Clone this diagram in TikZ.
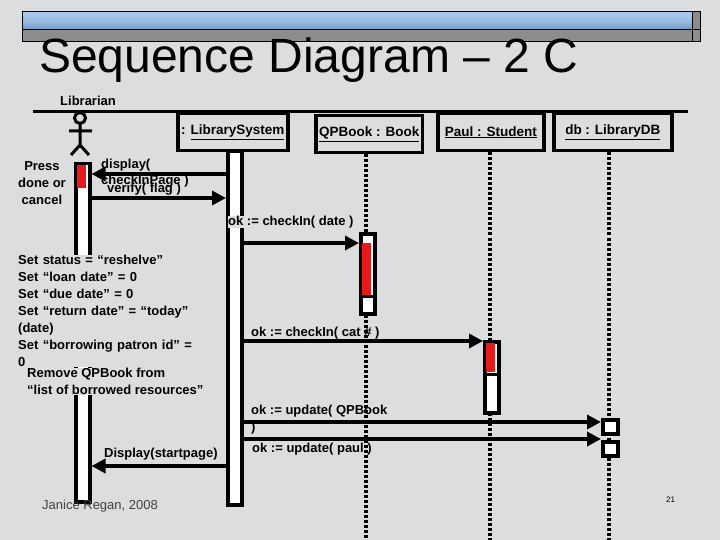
\documentclass[tikz,border=0pt]{standalone}
\usepackage{fontspec}
\setmainfont{Liberation Sans}
\usetikzlibrary{positioning, arrows.meta}
\definecolor{slide}{HTML}{DCDDDF}
\definecolor{barblue}{HTML}{6F96C4}
\definecolor{barlight}{HTML}{A9CBEE}
\definecolor{actred}{HTML}{E8191A}
\tikzset{
  obj/.style={draw, line width=3.5pt, fill=slide, minimum height=37pt, font=\bfseries\fontsize{13.5}{15}\selectfont},
  act/.style={draw, line width=3.5pt, fill=white},
  life/.style={line width=3.5pt, dash pattern=on 3pt off 2pt},
  msg/.style={line width=4pt, -{Triangle[length=14pt,width=14pt]}},
  lbl/.style={font=\bfseries\fontsize{13}{17}\selectfont, inner sep=0pt, align=left},
  note/.style={lbl, fill=slide}
}
\begin{document}
\begin{tikzpicture}[x=1pt, y=-1pt]
        \useasboundingbox[fill=slide] (0,0) rectangle (720,540);
        % title bar
        \shade[top color=barlight, bottom color=barblue, middle color=barlight!70!barblue] (22,12) rectangle (692,30);
        \fill[gray!90] (22,30) rectangle (700,42);
        \fill[gray!90] (692,12) rectangle (700,30);
        \draw[line width=1pt] (22,12) rectangle (700,42) (22,30) -- (700,30) (692,12) -- (692,42);
        \node[anchor=base west, inner sep=0pt, font=\fontsize{48}{48}\selectfont] (title) at (39,73) {Sequence Diagram – 2 C};
        % objects
        \draw[line width=3pt] (33,112) -- (688,112);
        \node[lbl, anchor=base west] (lib) at (60,106) {Librarian};
        \node[obj, minimum width=110pt, anchor=north west] (sys) at (176,112) {: \underline{LibrarySystem}};
        \node[obj, minimum width=102pt, anchor=north west] (book) at (314,114) {\underline{QPBook : Book}};
        \node[obj, minimum width=106pt, anchor=north west] (paul) at (436,112) {\underline{Paul : Student}};
        \node[obj, minimum width=118pt, anchor=north west] (db) at (552,112) {\underline{db : LibraryDB}};
        % lifelines
        \draw[life] (book.south -| 366,0) -- (366,540);
        \draw[life] (paul.south -| 490,0) -- (490,540);
        \draw[life] (db.south -| 609,0) -- (609,540);
        % stick figure
        \draw[line width=3pt] (80,118) circle (5.5) (80,124) -- (80,145) (69,131) -- (92,131)
          (71,155) -- (80,145) -- (89,155);
        % activations
        \node[act, anchor=north west, minimum width=14pt, minimum height=338pt, inner sep=0pt] (libact) at (74,162) {};
        \fill[actred] (76.5,165) rectangle (85.5,188);
        \node[act, anchor=north west, minimum width=14pt, minimum height=353pt, inner sep=0pt] (sysact) at (226,150) {};
        \node[act, anchor=north west, minimum width=14pt, minimum height=80pt, inner sep=0pt] (bookact) at (359,232) {};
        \fill[actred] (361.5,243) rectangle (370.5,295);
        \draw[line width=3pt] (359,296) -- (373,296);
        \node[act, anchor=north west, minimum width=14pt, minimum height=71pt, inner sep=0pt] (paulact) at (483,340) {};
        \fill[actred] (485.5,343) rectangle (494.5,372);
        \draw[line width=3pt] (483,374) -- (497,374);
        \node[act, anchor=north west, minimum width=15pt, minimum height=14pt, inner sep=0pt] (db1) at (601,418) {};
        \node[act, anchor=north west, minimum width=15pt, minimum height=14pt, inner sep=0pt] (db2) at (601,440) {};
        % messages
        \draw[msg] (sysact.west |- 0,174) -- (libact.east |- 0,174);
        \draw[msg] (libact.east |- 0,198) -- (sysact.west |- 0,198);
        \draw[msg] (sysact.east |- 0,243) -- (bookact.west |- 0,243);
        \draw[msg] (sysact.east |- 0,341) -- (paulact.west |- 0,341);
        \draw[msg] (sysact.east |- 0,422) -- (db1.west |- 0,422);
        \draw[msg] (sysact.east |- 0,439) -- (db2.west |- 0,439);
        \draw[msg] (sysact.west |- 0,466) -- (libact.east |- 0,466);
        % labels
        \node[lbl, anchor=north east, align=center] (press) at (66,161) {Press\\done or\\cancel};
        \node[lbl, anchor=north west, font=\bfseries\fontsize{13}{16}\selectfont] (mdisp) at (101,159) {display(\\checkInPage )};
        \node[lbl, anchor=north west] (mver) at (107,183) {verify( flag )};
        \node[lbl, anchor=north west, fill=slide] (mdate) at (228,216) {ok := checkIn( date )};
        \node[lbl, anchor=north west] (mcat) at (251,327) {ok := checkIn( cat \# )};
        \node[lbl, anchor=north west] (mupd) at (251,405) {ok := update( QPBook\\)};
        \node[lbl, anchor=north west] (mpaul) at (252,443) {ok := update( paul )};
        \node[lbl, anchor=north west] (mstart) at (104,448) {Display(startpage)};
        \node[note, anchor=north west, text width=205pt] (setblk) at (18,255)
          {Set status = “reshelve”\\Set “loan date” = 0\\Set “due date” = 0\\Set “return date” = “today”\\(date)\\Set “borrowing patron id” =\\0};
        \node[note, anchor=north west] (remove) at (27,368) {Remove QPBook from\\“list of borrowed resources”};
        \node[anchor=base west, inner sep=0pt, font=\fontsize{13}{14}\selectfont, text=black!75] (author) at (42,509) {Janice Regan, 2008};
        \node[anchor=base west, inner sep=0pt, font=\fontsize{8}{9}\selectfont] (page) at (666,502) {21};
      \end{tikzpicture}
\end{document}
